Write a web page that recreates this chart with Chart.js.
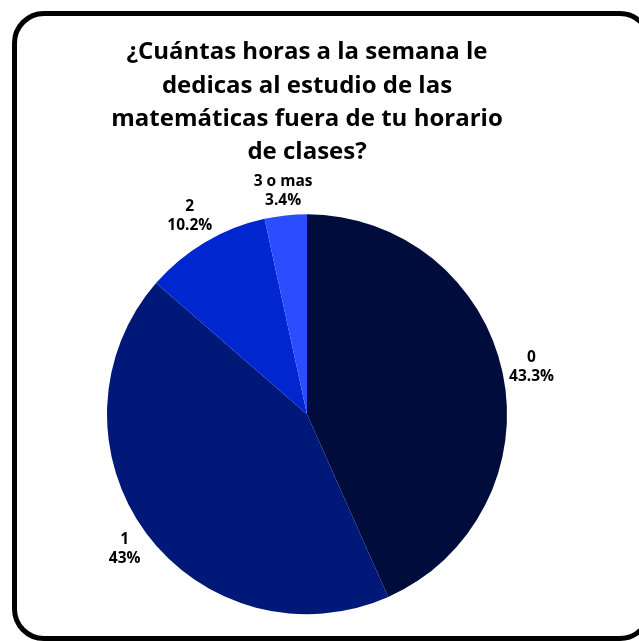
<!DOCTYPE html>
<html lang="es">
<head>
  <meta charset="UTF-8">
  <title>Horas de estudio de matemáticas</title>
  <script src="https://cdn.jsdelivr.net/npm/chart.js"></script>
  <style>
    * {
      box-sizing: border-box;
    }

    body {
      margin: 0;
      width: 639px;
      height: 641px;
      overflow: hidden;
      background: #ffffff;
      position: relative;
    }

    .card {
      position: absolute;
      left: 12px;
      top: 11px;
      width: 640px;
      height: 630px;
      border: 5px solid #000000;
      border-radius: 32px;
      background: #ffffff;
    }

    #chart-box {
      position: absolute;
      left: 0;
      top: 0;
      width: 639px;
      height: 641px;
    }
  </style>
</head>
<body>
  <div class="card"></div>
  <div id="chart-box">
    <canvas id="chart" width="639" height="641"></canvas>
  </div>

  <script>
    const titleLines = [
      '¿Cuántas horas a la semana le',
      'dedicas al estudio de las',
      'matemáticas fuera de tu horario',
      'de clases?'
    ];
    const categories = ['0', '1', '2', '3 o mas'];
    const percentages = [43.3, 43, 10.2, 3.4];
    const sliceColors = ['#000c3b', '#001878', '#0026cf', '#2a4dff'];

    // etiqueta de dos líneas (categoría + porcentaje) fuera de cada porción,
    // separada del borde según el tamaño del bloque de texto
    const outsideLabels = {
      id: 'outsideLabels',
      afterDatasetsDraw(chart) {
        const ctx = chart.ctx;
        const meta = chart.getDatasetMeta(0);
        const gap = 4;
        const halfH = 17;
        ctx.save();
        ctx.font = 'bold 15.5px "Open Sans"';
        ctx.fillStyle = '#000000';
        ctx.textAlign = 'center';
        ctx.textBaseline = 'middle';
        meta.data.forEach((arc, i) => {
          const p = arc.getProps(['x', 'y', 'startAngle', 'endAngle', 'outerRadius'], true);
          const mid = (p.startAngle + p.endAngle) / 2;
          const top = categories[i];
          const bottom = percentages[i] + '%';
          const halfW = Math.max(ctx.measureText(top).width, ctx.measureText(bottom).width) / 2;
          const cos = Math.cos(mid);
          const sin = Math.sin(mid);
          const r = p.outerRadius + gap + Math.abs(cos) * halfW + Math.abs(sin) * halfH;
          const x = p.x + cos * r;
          const y = p.y + sin * r;
          ctx.fillText(top, x, y - 9.5);
          ctx.fillText(bottom, x, y + 9.5);
        });
        ctx.restore();
      }
    };

    const chart = new Chart(document.getElementById('chart'), {
      type: 'pie',
      data: {
        labels: categories,
        datasets: [{
          data: percentages,
          backgroundColor: sliceColors,
          borderWidth: 0,
          radius: 200
        }]
      },
      options: {
        responsive: false,
        animation: false,
        layout: {
          padding: { left: 0, right: 25, top: 0, bottom: 0 }
        },
        plugins: {
          legend: { display: false },
          tooltip: { enabled: false },
          title: {
            display: true,
            text: titleLines,
            color: '#000000',
            font: { family: 'Open Sans', size: 24, weight: 'bold', lineHeight: 1.38 },
            padding: { top: 36, bottom: 19 }
          }
        }
      },
      plugins: [outsideLabels]
    });
  </script>
</body>
</html>
